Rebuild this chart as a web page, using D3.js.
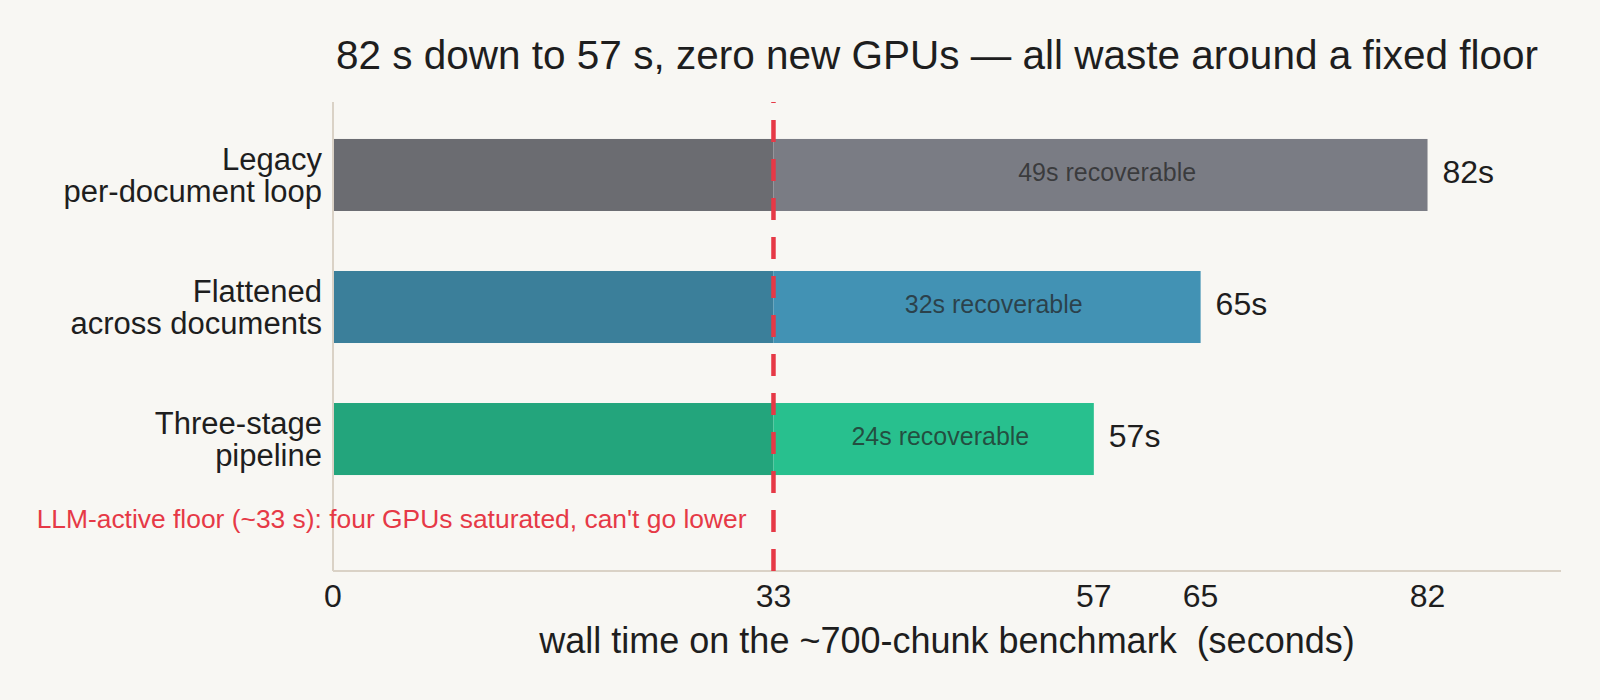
<!DOCTYPE html>
<html>
<head>
<meta charset="utf-8">
<script src="https://cdn.jsdelivr.net/npm/d3@7"></script>
<style>
  html, body { margin: 0; padding: 0; background: #f8f7f3; }
  svg { display: block; font-family: "Liberation Sans", Arial, Helvetica, sans-serif; }
</style>
</head>
<body>
<div id="chart"></div>
<script>
// chart values
const categories = ["Legacy\nper-document loop", "Flattened\nacross documents", "Three-stage\npipeline"];
const totals = [82, 65, 57];
const recoverable = [49, 32, 24];
const floorValue = 33;
const xTicks = [0, 33, 57, 65, 82];

const titleText = "82 s down to 57 s, zero new GPUs \u2014 all waste around a fixed floor";
const xLabel = "wall time on the ~700-chunk benchmark  (seconds)";
const floorLabel = "LLM-active floor (~33 s): four GPUs saturated, can't go lower";

// styles
const floorColors = ["#6b6c71", "#3b7f9a", "#23a57c"];
const wasteColors = ["#7a7c84", "#4292b4", "#28c08e"];
const red = "#e63946";
const axisColor = "#dad2c6";

function draw() {
  const width = 1600, height = 700,
    margin = ({ top: 102, right: 39, bottom: 129, left: 333 });
  const axisY = height - margin.bottom;

  const svg = d3.select("#chart")
    .append("svg")
    .attr("width", width)
    .attr("height", height);

  svg.append("rect")
    .attr("width", width)
    .attr("height", height)
    .attr("fill", "#f8f7f3");

  let x = d3.scaleLinear()
    .domain([0, 92])
    .range([margin.left, width - margin.right]);

  let y = d3.scaleBand()
    .domain(categories)
    .range([margin.top, 512])
    .paddingInner(0.4545)
    .paddingOuter(0.28);

  const rows = categories.map((c, i) => ({ cat: c, total: totals[i], rec: recoverable[i], i: i }));

  // bars: floor part + recoverable part
  let bar = svg.selectAll(".bar")
    .data(rows)
    .join("g")
    .attr("class", "bar");

  bar.append("rect")
    .attr("x", x(0))
    .attr("y", d => y(d.cat))
    .attr("width", x(floorValue) - x(0))
    .attr("height", y.bandwidth())
    .attr("fill", d => floorColors[d.i]);

  bar.append("rect")
    .attr("x", x(floorValue))
    .attr("y", d => y(d.cat))
    .attr("width", d => x(d.total) - x(floorValue))
    .attr("height", y.bandwidth())
    .attr("fill", d => wasteColors[d.i]);

  bar.append("text")
    .attr("x", d => x((floorValue + d.total) / 2 + 0.5))
    .attr("y", d => y(d.cat) + y.bandwidth() / 2)
    .attr("dy", "0.25em")
    .attr("text-anchor", "middle")
    .attr("font-size", 25)
    .attr("fill", "#222")
    .attr("fill-opacity", 0.72)
    .text(d => d.rec + "s recoverable");

  bar.append("text")
    .attr("x", d => x(d.total) + 15)
    .attr("y", d => y(d.cat) + y.bandwidth() / 2)
    .attr("dy", "0.25em")
    .attr("font-size", 32)
    .attr("fill", "#1e1e1e")
    .text(d => d.total + "s");

  // category labels (two lines)
  let lab = svg.selectAll(".cat")
    .data(rows)
    .join("text")
    .attr("class", "cat")
    .attr("text-anchor", "end")
    .attr("font-size", 31)
    .attr("fill", "#1e1e1e");

  lab.each(function(d) {
    const lines = d.cat.split("\n");
    const cy = y(d.cat) + y.bandwidth() / 2;
    d3.select(this).selectAll("tspan")
      .data(lines)
      .join("tspan")
      .attr("x", margin.left - 11)
      .attr("y", (l, j) => cy + (j - (lines.length - 1) / 2) * 32.5 + 11)
      .text(l => l);
  });

  // axes lines
  svg.append("line")
    .attr("x1", x(0)).attr("x2", x(0))
    .attr("y1", margin.top).attr("y2", axisY)
    .attr("stroke", axisColor).attr("stroke-width", 2);

  svg.append("line")
    .attr("x1", x(0)).attr("x2", width - margin.right)
    .attr("y1", axisY).attr("y2", axisY)
    .attr("stroke", axisColor).attr("stroke-width", 2);

  // x tick labels
  svg.append("g")
    .selectAll("text")
    .data(xTicks)
    .join("text")
    .attr("x", d => x(d))
    .attr("y", axisY + 36)
    .attr("text-anchor", "middle")
    .attr("font-size", 32)
    .attr("fill", "#1e1e1e")
    .text(d => d);

  // floor line, dashes start from the bottom
  svg.append("line")
    .attr("x1", x(floorValue)).attr("x2", x(floorValue))
    .attr("y1", axisY).attr("y2", margin.top)
    .attr("stroke", red)
    .attr("stroke-width", 4.5)
    .attr("stroke-dasharray", "22,17");

  svg.append("text")
    .attr("x", x(floorValue) - 27)
    .attr("y", axisY - 43)
    .attr("text-anchor", "end")
    .attr("font-size", 26.4)
    .attr("fill", red)
    .text(floorLabel);

  // axis title
  svg.append("text")
    .attr("x", (margin.left + width - margin.right) / 2)
    .attr("y", 653)
    .attr("text-anchor", "middle")
    .attr("font-size", 36)
    .attr("fill", "#1e1e1e")
    .style("white-space", "pre")
    .text(xLabel);

  // title
  svg.append("text")
    .attr("x", (margin.left + width - margin.right) / 2 - 10)
    .attr("y", 69)
    .attr("text-anchor", "middle")
    .attr("font-size", 40.5)
    .attr("fill", "#1e1e1e")
    .text(titleText);
}
draw();
</script>
</body>
</html>
